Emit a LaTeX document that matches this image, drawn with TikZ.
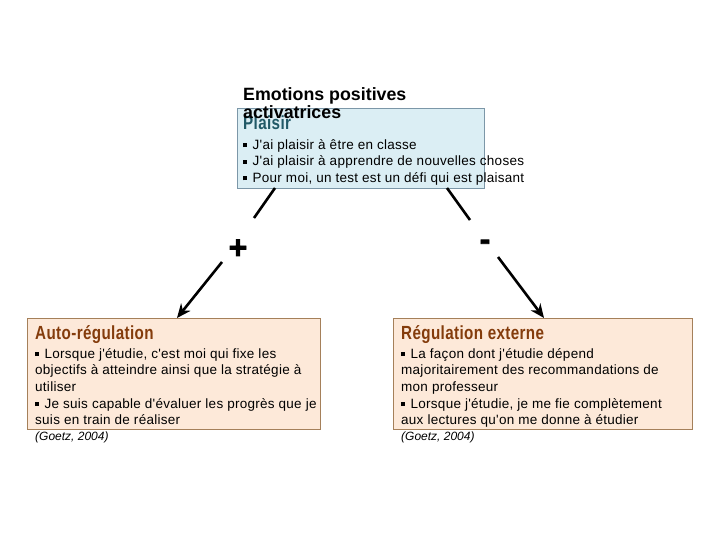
\documentclass[tikz,border=0pt]{standalone}
\usepackage{fontspec}
\setmainfont{Liberation Sans}
\newfontfamily\bodyfont[LetterSpace=2]{Liberation Sans}
\newfontfamily\condfont[FakeStretch=0.8,LetterSpace=2]{Liberation Sans}
\newfontfamily\signfont[FakeBold=2.5]{Liberation Sans}
\usetikzlibrary{arrows.meta}
\definecolor{topfill}{HTML}{DBEEF4}
\definecolor{topdraw}{HTML}{7C97A8}
\definecolor{plaisircol}{HTML}{215967}
\definecolor{boxfill}{HTML}{FDE9D9}
\definecolor{boxdraw}{HTML}{A5805A}
\definecolor{titlecol}{HTML}{843C0C}
\newcommand{\blt}{\raisebox{0.3ex}{\rule{0.3em}{0.3em}}\hspace{0.4em}}
\tikzset{
  x=1pt, y=-1pt,
  topbox/.style={draw=topdraw, fill=topfill, line width=0.8pt, minimum width=247pt, minimum height=80pt, anchor=north west, inner sep=0},
  regbox/.style={draw=boxdraw, fill=boxfill, line width=0.8pt, minimum width=#1, minimum height=111pt, anchor=north west, inner sep=0},
  body/.style={font=\bodyfont\fontsize{13.5}{16.7}\selectfont, align=left, anchor=north west, inner sep=0},
  boxtitle/.style={font=\condfont\bfseries\fontsize{19}{19}\selectfont, text=titlecol, anchor=base west, inner sep=0},
  headtitle/.style={font=\bfseries\fontsize{17.8}{18}\selectfont, anchor=base west, inner sep=0},
  cite/.style={font=\itshape\fontsize{12}{13}\selectfont, anchor=base west, inner sep=0},
  conn/.style={line width=2.6pt, line cap=butt},
  arr/.style={conn, -{Stealth[length=14pt,width=12pt]}},
  sign/.style={font=\signfont\bfseries\fontsize{32}{32}\selectfont, inner sep=0}
}
\begin{document}
\begin{tikzpicture}
\useasboundingbox (0,0) rectangle (720,540);
% top box
\node[topbox] (top) at (237,108) {};
\node[font=\condfont\bfseries\fontsize{19}{19}\selectfont, text=plaisircol, anchor=base west, inner sep=0] (plaisir) at (243,130) {Plaisir};
\node[headtitle] (emo1) at (243,101) {Emotions positives};
\node[headtitle] (emo2) at (243,119) {activatrices};
\node[body] (topbody) at (243,139) {\blt J'ai plaisir à être en classe\\ \blt J'ai plaisir à apprendre de nouvelles choses\\ \blt Pour moi, un test est un défi qui est plaisant};
% left box
\node[regbox=293pt] (lbox) at (27,318) {};
\node[boxtitle] (ltitle) at (35,339) {Auto-régulation};
\node[body] (lbody) at (35,348) {\blt Lorsque j'étudie, c'est moi qui fixe les\\ objectifs à atteindre ainsi que la stratégie à\\ utiliser\\ \blt Je suis capable d'évaluer les progrès que je\\ suis en train de réaliser};
\node[cite] (lcite) at (35,440) {(Goetz, 2004)};
% right box
\node[regbox=299pt] (rbox) at (393,318) {};
\node[boxtitle] (rtitle) at (401,339) {Régulation externe};
\node[body] (rbody) at (401,348) {\blt La façon dont j'étudie dépend\\ majoritairement des recommandations de\\ mon professeur\\ \blt Lorsque j'étudie, je me fie complètement\\ aux lectures qu'on me donne à étudier};
\node[cite] (rcite) at (401,440) {(Goetz, 2004)};
% signs
\node[sign] (plus) at (238,249) {+};
\node[sign] (minus) at (485,245) {-};
% connectors
\coordinate (la) at (275,188);
\coordinate (lb) at (254,218);
\coordinate (lc) at (222,262);
\coordinate (ld) at (177,318);
\coordinate (ra) at (447,188);
\coordinate (rb) at (470,220);
\coordinate (rc) at (498,257);
\coordinate (rd) at (544,318);
\draw[conn] (la) -- (lb);
\draw[arr] (lc) -- (ld);
\draw[conn] (ra) -- (rb);
\draw[arr] (rc) -- (rd);
\end{tikzpicture}
\end{document}
